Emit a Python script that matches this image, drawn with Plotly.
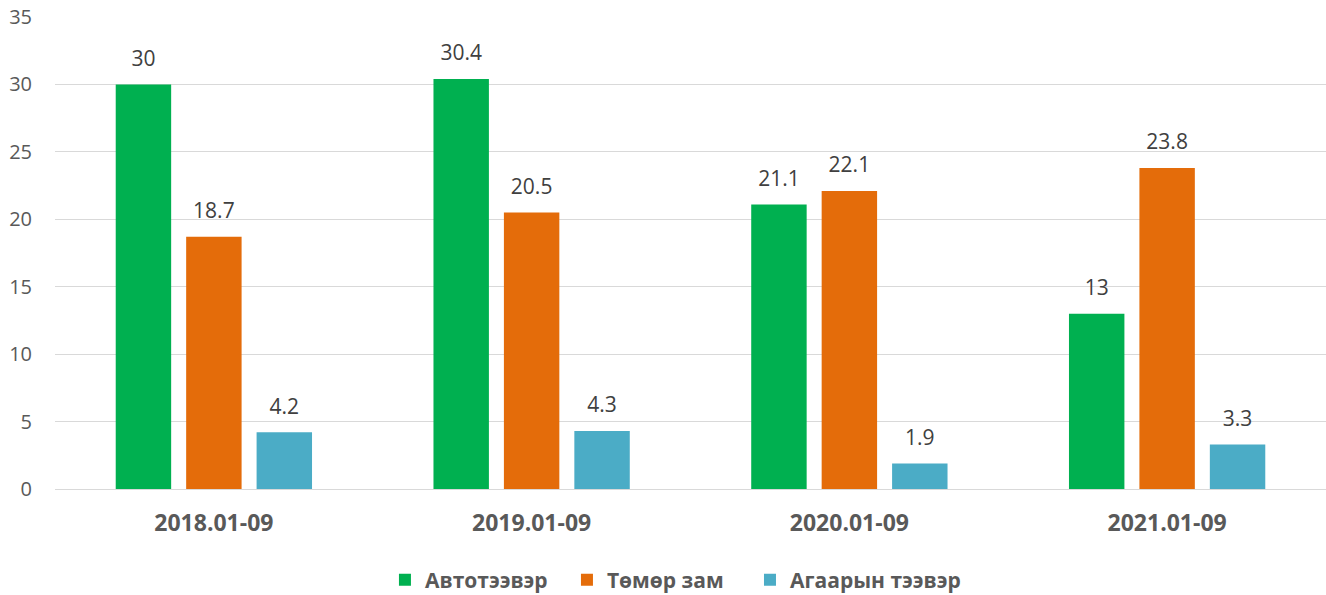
import plotly.graph_objects as go

categories = ["2018.01-09", "2019.01-09", "2020.01-09", "2021.01-09"]
series_names = ["Автотээвэр", "Төмөр зам", "Агаарын тээвэр"]
auto_vals = [30, 30.4, 21.1, 13]
rail_vals = [18.7, 20.5, 22.1, 23.8]
air_vals = [4.2, 4.3, 1.9, 3.3]
colors = ["#00B050", "#E46C0A", "#4BACC6"]
y_ticks = [0, 5, 10, 15, 20, 25, 30, 35]

legend_ids = ["legend", "legend2", "legend3"]
legend_x = [0.2596, 0.4028, 0.5468]

fig = go.Figure()
all_vals = [auto_vals, rail_vals, air_vals]
for name, vals, col, lg in zip(series_names, all_vals, colors, legend_ids):
    fig.add_trace(go.Bar(
        name=name, x=categories, y=vals,
        marker=dict(color=col, line=dict(width=0)),
        offsetgroup=name, legend=lg,
    ))
# data labels as grouped text-only scatter traces
for name, vals in zip(series_names, all_vals):
    fig.add_trace(go.Scatter(
        x=categories, y=vals, mode="markers+text",
        marker=dict(size=20, opacity=0),
        text=[f"{v:g}" for v in vals],
        textposition="top center",
        textfont=dict(family="Open Sans", size=21, color="#404040"),
        showlegend=False, hoverinfo="skip", cliponaxis=False,
        offsetgroup=name,
    ))

legend_common = dict(orientation="h", xanchor="left", y=-0.193, yanchor="middle",
                     font=dict(family="Open Sans", size=21, color="#595959", weight="bold"),
                     itemwidth=30, bgcolor="rgba(0,0,0,0)")

fig.update_layout(
    width=1326, height=595,
    margin=dict(l=55, r=0, t=17, b=106, autoexpand=False),
    paper_bgcolor="white", plot_bgcolor="white",
    barmode="group", bargap=0.335, bargroupgap=0.213,
    scattermode="group", scattergap=0.335,
    font=dict(family="Open Sans", color="#595959"),
    showlegend=True,
)
for lg, lx in zip(legend_ids, legend_x):
    fig.update_layout({lg: dict(legend_common, x=lx)})

fig.update_yaxes(range=[0, 35], tickvals=y_ticks, showgrid=True, gridcolor="#D9D9D9", gridwidth=1,
                 zeroline=True, zerolinecolor="#D9D9D9", zerolinewidth=1,
                 tickfont=dict(family="Open Sans", size=20, color="#595959"),
                 ticklabelstandoff=22, showline=False, automargin=False)
fig.update_xaxes(tickfont=dict(family="Open Sans", size=23, color="#595959", weight="bold"),
                 ticklabelstandoff=18, showline=False, showgrid=False, automargin=False)

fig.write_html("out.html", config={"displayModeBar": False},
               post_script="document.body.style.margin='0';")
